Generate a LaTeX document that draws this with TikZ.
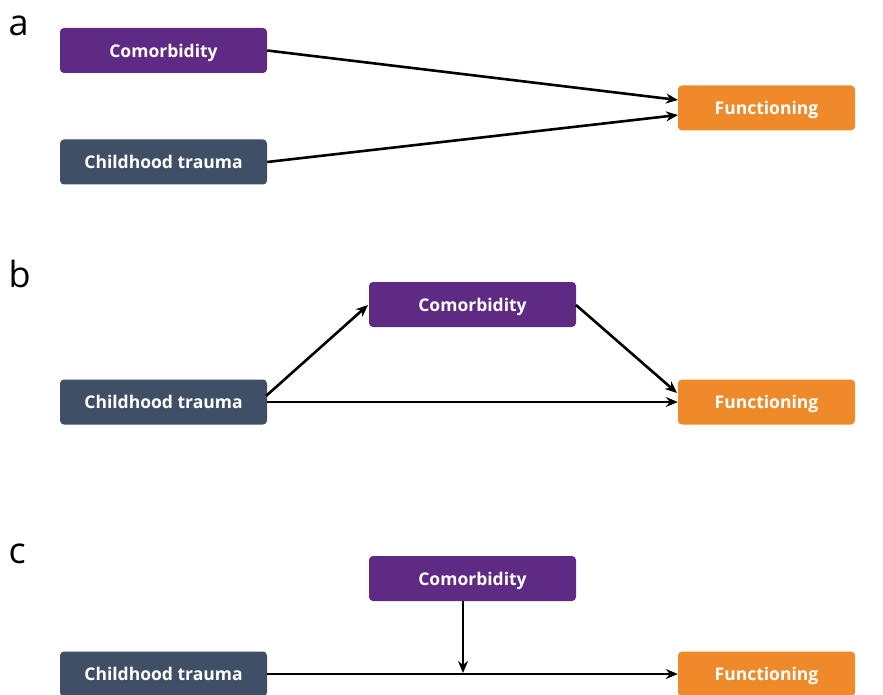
\documentclass[tikz,border=0pt]{standalone}
\usepackage{fontspec}
\setmainfont{Open Sans}
\usetikzlibrary{arrows.meta}
\definecolor{cpurple}{HTML}{5E2A84}
\definecolor{cslate}{HTML}{3F5066}
\definecolor{corange}{HTML}{EE8A2A}
\tikzset{
  box/.style={rounded corners=4pt, minimum width=207pt, minimum height=45pt, inner sep=0pt,
    text=white, font=\fontsize{17.5}{19}\selectfont\bfseries, text depth=0pt},
  cbox/.style={box, fill=cpurple},
  tbox/.style={box, fill=cslate},
  fbox/.style={box, fill=corange, minimum width=177pt},
  conn/.style={draw=black, line width=2.6pt, -{Stealth[length=12pt,width=10pt]}},
  panel/.style={font=\fontsize{36}{38}\selectfont, anchor=base west}
}
\begin{document}
\begin{tikzpicture}[x=1pt,y=-1pt]
\useasboundingbox[fill=white] (0,0) rectangle (883,695);
% panel a
\node[panel] (la) at (5,36) {a};
\node[cbox] (a1) at (163.5,50.5) {Comorbidity};
\node[tbox] (a2) at (163.5,162) {Childhood trauma};
\node[fbox] (a3) at (766.5,108) {Functioning};
\coordinate (a3u) at (678,100);
\coordinate (a3d) at (678,115);
\draw[conn] (a1.east) -- (a3u);
\draw[conn] (a2.east) -- (a3d);
% panel b
\node[panel] (lb) at (5,287) {b};
\node[cbox] (b1) at (472.5,304.5) {Comorbidity};
\node[tbox] (b2) at (163.5,402) {Childhood trauma};
\node[fbox] (b3) at (766.5,402) {Functioning};
\coordinate (b2u) at (266,396);
\coordinate (b1l) at (368,305);
\coordinate (b1r) at (576,305);
\coordinate (b3u) at (677,393);
\draw[conn] (b2u) -- (b1l);
\draw[conn] (b1r) -- (b3u);
\draw[conn] (b2.east) -- (b3.west);
% panel c
\node[panel] (lc) at (5,563) {c};
\node[cbox] (c1) at (472.5,578.5) {Comorbidity};
\node[tbox] (c2) at (163.5,674) {Childhood trauma};
\node[fbox] (c3) at (766.5,674) {Functioning};
\coordinate (c1b) at (463,601);
\coordinate (cm) at (463,673);
\draw[conn] (c1b) -- (cm);
\draw[conn] (c2.east) -- (c3.west);
\end{tikzpicture}
\end{document}
